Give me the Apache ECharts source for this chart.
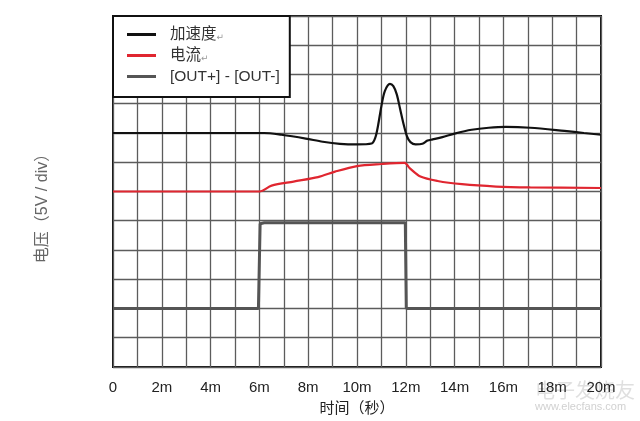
<!DOCTYPE html>
<html>
<head>
<meta charset="utf-8">
<script src="https://cdn.jsdelivr.net/npm/echarts@6/dist/echarts.min.js"></script>
<style>html,body{margin:0;padding:0;background:#fff;}#c{width:640px;height:421px;}</style>
</head>
<body>
<div id="c"></div>
<script>
// Time in ms, values in divisions (5V/div)
const seriesNames = ['加速度', '电流', '[OUT+] - [OUT-]'];
const accelTime  = [0, 6.2, 6.9, 7.9, 8.6, 9.3, 10.0, 10.6, 10.75, 10.86, 11.0, 11.14, 11.35, 11.49, 11.63, 11.77, 11.91, 12.05, 12.19, 12.4, 12.68, 12.89, 13.1, 13.5, 14.0, 14.7, 15.4, 16.1, 17.1, 18.5, 19.3, 20];
const accelValue = [8.0, 8.0, 7.94, 7.81, 7.7, 7.63, 7.61, 7.64, 7.84, 8.24, 8.92, 9.43, 9.68, 9.60, 9.32, 8.81, 8.30, 7.88, 7.69, 7.61, 7.63, 7.74, 7.78, 7.86, 7.98, 8.11, 8.18, 8.21, 8.18, 8.07, 8.0, 7.94];
const currentTime  = [0, 6.0, 6.5, 7.4, 8.4, 9.1, 10.0, 11.0, 11.95, 12.17, 12.6, 13.3, 14.3, 15.7, 17.1, 20];
const currentValue = [6.0, 6.0, 6.2, 6.34, 6.49, 6.68, 6.87, 6.94, 6.98, 6.79, 6.51, 6.36, 6.25, 6.17, 6.14, 6.12];
const outTime  = [0, 5.96, 6.03, 6.2, 11.98, 12.02, 20];
const outValue = [2.0, 2.0, 4.9, 4.93, 4.93, 2.0, 2.0];
const xTickValues = [0, 2, 4, 6, 8, 10, 12, 14, 16, 18, 20];
const xTickLabels = ['0', '2m', '4m', '6m', '8m', '10m', '12m', '14m', '16m', '18m', '20m'];

const pair = (t, v) => t.map((x, i) => [x, v[i]]);
const FONT = '"Liberation Sans", Arial, "Noto Sans CJK SC", sans-serif';

const chart = echarts.init(document.getElementById('c'), null, {renderer: 'canvas'});
chart.setOption({
  animation: false,
  backgroundColor: '#fff',
  grid: {left: 113, right: 39, top: 16, bottom: 50, show: true, borderColor: '#111', borderWidth: 2, backgroundColor: 'transparent'},
  xAxis: {
    type: 'value', min: 0, max: 20, interval: 1,
    axisLine: {show: false}, axisTick: {show: false},
    splitLine: {show: true, lineStyle: {color: '#5c5c5c', width: 1.3}},
    axisLabel: {
      margin: 13, fontSize: 15, color: '#222', fontFamily: FONT,
      formatter: v => { const i = xTickValues.indexOf(v); return i >= 0 ? xTickLabels[i] : ''; }
    },
    name: '时间（秒）', nameLocation: 'middle', nameGap: 34,
    nameTextStyle: {fontSize: 15, color: '#222', fontFamily: FONT}
  },
  yAxis: {
    type: 'value', min: 0, max: 12, interval: 1,
    axisLine: {show: false}, axisTick: {show: false}, axisLabel: {show: false},
    splitLine: {show: true, lineStyle: {color: '#5c5c5c', width: 1.3}},
    name: '电压（5V / div）', nameLocation: 'middle', nameRotate: 90, nameGap: 62,
    nameTextStyle: {fontSize: 16, color: '#666', fontFamily: FONT, padding: [0, 26, 0, 0]}
  },
  legend: {
    orient: 'vertical', left: 113, top: 16,
    backgroundColor: '#fff', borderColor: '#111', borderWidth: 2, borderRadius: 0,
    padding: [10, 10, 12, 14], itemGap: 4,
    itemWidth: 29, itemHeight: 3, icon: 'rect',
    data: seriesNames,
    formatter: n => n === seriesNames[2] ? n : n + '{r|↵}',
    textStyle: {fontSize: 15.5, lineHeight: 17, color: '#333', fontFamily: FONT, padding: [0, 0, 0, 9],
      rich: {r: {fontSize: 9, color: '#999', fontFamily: '"DejaVu Sans"', padding: [6, 0, 0, 0]}}}
  },
  series: [
    {name: seriesNames[0], type: 'line', symbol: 'none', data: pair(accelTime, accelValue), smooth: 0.3,
     lineStyle: {color: '#111', width: 2.2}, itemStyle: {color: '#111'}, z: 3},
    {name: seriesNames[1], type: 'line', symbol: 'none', data: pair(currentTime, currentValue), smooth: 0.3,
     lineStyle: {color: '#e02630', width: 2.2}, itemStyle: {color: '#e02630'}, z: 3},
    {name: seriesNames[2], type: 'line', symbol: 'none', data: pair(outTime, outValue),
     lineStyle: {color: '#555', width: 3}, itemStyle: {color: '#555'}, z: 2}
  ],
  graphic: [
    {type: 'text', left: 535, top: 380, silent: true, style: {text: '电子发烧友', fontSize: 20, fontFamily: '"Noto Sans CJK SC"', fill: 'rgba(150,150,150,0.3)'}},
    {type: 'text', left: 535, top: 401, silent: true, style: {text: 'www.elecfans.com', fontSize: 11, fontFamily: FONT, fill: 'rgba(150,150,150,0.45)'}}
  ]
});
</script>
</body>
</html>
